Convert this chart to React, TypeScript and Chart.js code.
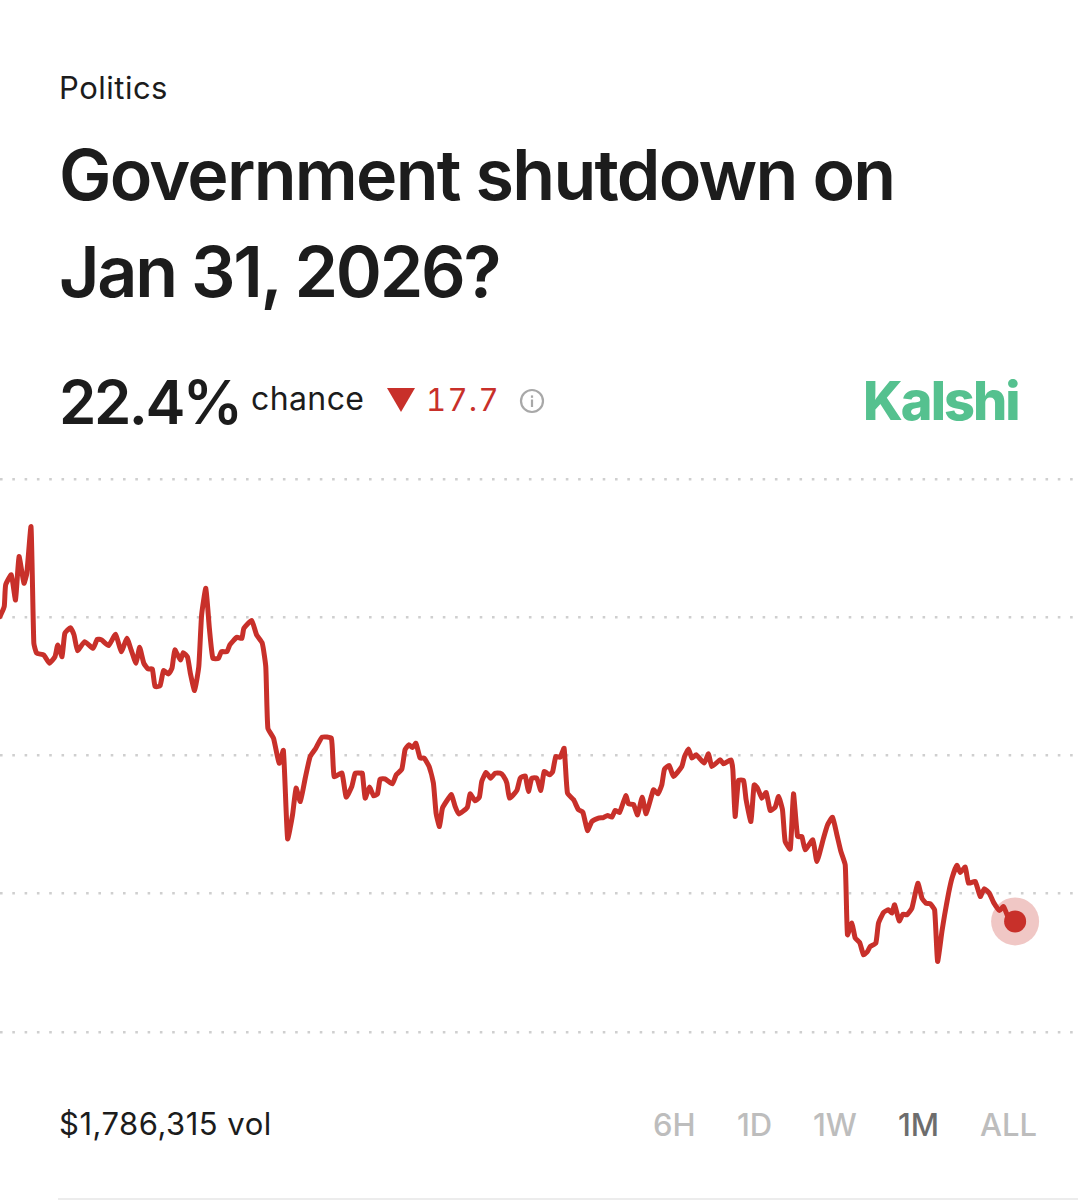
import React, { useEffect, useRef } from 'react';
import { Chart } from 'chart.js/auto';

// hours since the start of the 1M window
const hours = [
  0, 3, 4, 8, 11, 13.5, 17, 19, 22, 24, 26, 31, 35, 39, 41, 44, 46, 50, 52.5, 55,
  60, 66, 69, 72, 77, 82, 86, 90, 93, 96.5, 99, 102, 105, 108, 110, 113.5, 116, 119.5, 122, 124,
  128, 130, 133, 135, 138, 141, 143, 146, 148.5, 151, 155, 157, 161, 163, 168, 171.5, 173, 178.5, 182, 186,
  188.5, 190, 194, 198, 201, 204, 207.5, 210, 213, 216.5, 220, 224, 228.5, 235, 237, 242.5, 245.5, 249.5, 252, 255.5,
  257, 259, 262, 265, 267.7, 269.6, 273, 278.3, 281, 285, 287.3, 290, 292.5, 295, 298, 300.8, 304.4, 307.4, 309.3, 311.7,
  313.8, 317.4, 320.2, 322.8, 325.4, 331.5, 333.4, 337, 340, 341.7, 344.8, 348, 351.2, 354.7, 357, 359.5, 361.4, 366.6, 369, 372.5,
  374.8, 377.2, 380.7, 383.6, 386, 389.7, 392, 394.2, 397.3, 400.1, 402.5, 406.8, 410.3, 413.4, 416.7, 419.8, 424.5, 428, 430.9, 434,
  436.3, 439.4, 443.9, 445.8, 449.3, 452.2, 455.5, 458.3, 463.5, 466.6, 469.4, 471.3, 474.6, 477.7, 483.6, 485.5, 488.4, 490.7, 493.8, 499.5,
  502.5, 504.9, 510.8, 513.2, 518.4, 519.8, 521.4, 523.8, 527.4, 529.2, 532.6, 534.9, 537.3, 540.4, 543.4, 546.3, 549.8, 552.2, 555, 556.9,
  560.5, 562.8, 565.7, 568.7, 571.1, 576.5, 579.4, 584.1, 587, 590.5, 593.6, 596.4, 599.5, 601.1, 604.2, 606.6, 609.7, 612.5, 615.3, 617.2,
  621.2, 623.1, 626.7, 630.2, 632.6, 634.5, 637.8, 640.4, 643.2, 646.8, 651, 653.9, 656.7, 659.8, 662.9, 665, 668.1, 670, 672.8, 675.2,
  678.7, 681.1, 684.6, 687, 691.7, 695.3, 698.1, 701.7, 704.7, 709, 711.8, 715.4, 720,
];
const chance = [
  40.04, 40.62, 41.87, 42.45, 41.0, 43.51, 41.97, 42.54, 45.24, 38.5, 37.92, 37.82, 37.34, 37.72, 38.4, 37.72, 39.07, 39.4, 38.98, 38.07,
  38.59, 38.2, 38.73, 38.69, 38.36, 39.02, 38.01, 38.78, 38.11, 37.34, 38.26, 37.34, 37.01, 37.01, 35.99, 36.03, 36.91, 36.72, 37.05, 38.11,
  37.53, 37.95, 37.69, 36.76, 35.76, 37.15, 40.13, 41.68, 39.36, 37.63, 37.63, 38.01, 38.01, 38.4, 38.84, 38.78, 39.36, 39.81, 38.98, 38.5,
  37.15, 33.58, 33.0, 31.55, 32.29, 27.18, 28.57, 30.11, 29.34, 30.69, 31.94, 32.42, 33.06, 33.0, 30.78, 30.98, 29.59, 30.2, 30.98, 30.98,
  30.98, 29.53, 30.17, 29.67, 29.76, 30.63, 30.65, 30.36, 30.88, 31.21, 32.33, 32.62, 32.46, 32.71, 31.85, 31.85, 31.36, 30.4, 28.67, 27.89,
  28.95, 29.44, 29.73, 29.05, 28.61, 29.01, 29.78, 29.38, 29.59, 30.5, 31.02, 30.69, 30.98, 30.98, 30.82, 30.4, 29.53, 29.98, 30.69, 30.82,
  29.92, 30.69, 30.69, 29.98, 31.07, 30.88, 31.07, 31.94, 31.9, 32.42, 29.82, 29.44, 28.86, 28.72, 27.66, 28.18, 28.38, 28.41, 28.53, 28.43,
  28.82, 28.7, 29.67, 29.2, 29.17, 28.57, 29.59, 28.63, 30.01, 29.78, 30.3, 31.21, 31.42, 30.79, 31.36, 31.94, 32.37, 31.85, 32.04, 31.56,
  32.1, 31.36, 31.75, 31.52, 31.75, 31.17, 28.47, 30.55, 30.55, 29.43, 28.18, 30.3, 30.11, 29.53, 29.86, 28.82, 29.01, 29.63, 28.85, 27.02,
  26.58, 29.78, 27.31, 27.31, 26.54, 27.12, 25.87, 27.22, 27.99, 28.43, 27.41, 26.45, 25.67, 21.63, 22.3, 21.43, 21.18, 20.47, 20.66, 20.95,
  21.14, 22.3, 22.92, 23.07, 22.88, 23.36, 22.43, 22.82, 22.78, 23.17, 24.61, 23.75, 23.46, 23.42, 23.07, 20.08, 21.82, 22.78, 24.03, 24.9,
  25.64, 25.23, 25.54, 24.61, 24.71, 23.84, 24.29, 24.03, 23.5, 23.03, 23.26, 22.59, 22.4,
];
const rangeLabels = ['6H', '1D', '1W', '1M', 'ALL'];
const rangeLeft = [653, 737, 813, 898, 980];

const RED = '#c8302a';
const FONT = 'Inter, sans-serif';

const text = (left: number, top: number, size: number, extra: React.CSSProperties = {}): React.CSSProperties => ({
  position: 'absolute',
  left,
  top,
  fontSize: size,
  lineHeight: 1,
  whiteSpace: 'nowrap',
  color: '#1c1c1c',
  ...extra,
});

const App: React.FC = () => {
  const chartRef = useRef<HTMLCanvasElement>(null);

  useEffect(() => {
    const ctx = chartRef.current?.getContext('2d');
    if (!ctx) {
      return;
    }
    const line = hours.map((h, i) => ({ x: h, y: chance[i] }));
    const last = line[line.length - 1];

    const chart = new Chart(ctx, {
      type: 'line',
      data: {
        datasets: [
          {
            label: 'Chance',
            data: line,
            borderColor: RED,
            borderWidth: 5,
            borderJoinStyle: 'round',
            borderCapStyle: 'round',
            tension: 0.15,
            pointRadius: (c: any) => (c.dataIndex === line.length - 1 ? 11 : 0),
            pointBackgroundColor: RED,
            pointBorderWidth: 0,
          },
          {
            label: 'Latest',
            data: [last],
            showLine: false,
            pointRadius: 24,
            pointBackgroundColor: 'rgba(200,48,42,0.27)',
            pointBorderWidth: 0,
          },
        ],
      },
      options: {
        animation: false,
        responsive: false,
        layout: { autoPadding: false, padding: { top: 19, bottom: 28, left: 0, right: 0 } },
        plugins: { legend: { display: false }, tooltip: { enabled: false } },
        scales: {
          x: { type: 'linear', display: false, min: 0, max: 764.6 },
          y: {
            min: 16,
            max: 48,
            ticks: { display: false, stepSize: 8 },
            border: { display: false, dash: [2.6, 9.7] },
            grid: {
              color: '#cfcfcf',
              lineWidth: 2.6,
              drawTicks: false,
              tickLength: 0,
            },
            afterFit: (axis: any) => {
              axis.width = 0;
            },
          },
        },
      },
    });
    return () => {
      chart.destroy();
    };
  }, []);

  return (
    <div style={{ position: 'absolute', left: 0, top: 0, width: 1078, height: 1200, background: '#fff', fontFamily: FONT, overflow: 'hidden' }}>
      <div style={text(59, 72, 31, { letterSpacing: 0.5 })}>Politics</div>
      <div style={text(59, 140, 70, { fontWeight: 600, letterSpacing: -1.75 })}>Government shutdown on</div>
      <div style={text(59, 237, 70, { fontWeight: 600, letterSpacing: -2.3 })}>Jan 31, 2026?</div>

      <div style={text(59, 372, 60, { fontWeight: 600, letterSpacing: -2.5 })}>22.4%</div>
      <div style={text(251, 383, 32, { letterSpacing: 0.4 })}>chance</div>
      <svg style={{ position: 'absolute', left: 387, top: 388 }} width={28} height={24}>
        <polygon points="0,0 28,0 14,24" fill={RED} />
      </svg>
      <div style={text(426, 384, 31, { color: RED, letterSpacing: 1.3, fontVariantNumeric: 'tabular-nums' })}>17.7</div>
      <svg style={{ position: 'absolute', left: 519, top: 388 }} width={26} height={26} viewBox="0 0 26 26">
        <circle cx={13} cy={13} r={11} fill="none" stroke="#a8a8a8" strokeWidth={2.2} />
        <rect x={11.9} y={11.5} width={2.2} height={7.5} fill="#a8a8a8" />
        <rect x={11.9} y={7.4} width={2.2} height={2.4} fill="#a8a8a8" />
      </svg>
      <div style={text(863, 374, 54, { color: '#55c18f', fontWeight: 800, letterSpacing: -2 })}>Kalshi</div>

      <canvas
        ref={chartRef}
        width={1078}
        height={600}
        style={{ position: 'absolute', left: 0, top: 460, width: 1078, height: 600 }}
      ></canvas>

      <div style={text(59, 1108, 31, { letterSpacing: 0.5 })}>$1,786,315 vol</div>
      {rangeLabels.map((label, i) => (
        <div key={label} style={text(rangeLeft[i], 1109, 31, { color: label === '1M' ? '#6d6d6d' : '#bdbdbd', fontWeight: 500 })}>
          {label}
        </div>
      ))}
      <div style={{ position: 'absolute', left: 58, top: 1198, width: 1020, height: 2, background: '#ececec' }}></div>
    </div>
  );
};

export default App;
